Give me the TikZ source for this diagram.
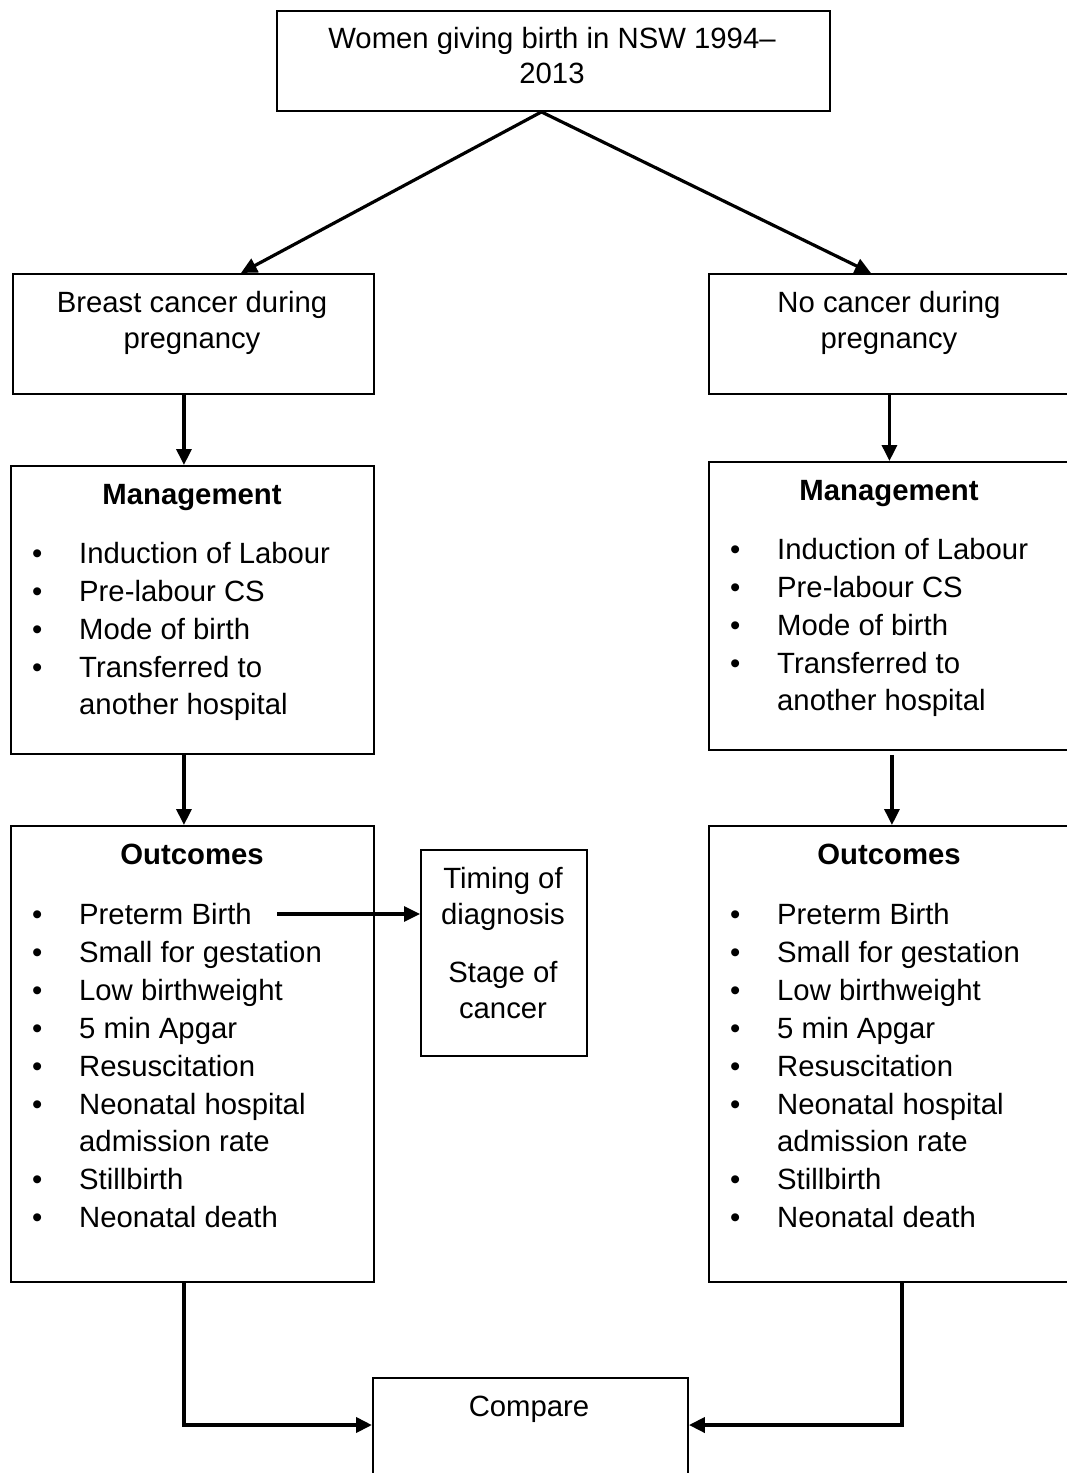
\documentclass[tikz,border=0pt]{standalone}
\usepackage{fontspec}
\setmainfont{Liberation Sans}
\usetikzlibrary{arrows.meta}

% one centred block of lines, and one bulleted list
\newcommand\ctab[1]{\begin{tabular}[t]{@{}c@{}}#1\end{tabular}}
\newcommand\btab[1]{\begin{tabular}[t]{@{}l@{}}#1\end{tabular}}
\newcommand\bul{\makebox[47pt][l]{\textbullet}}
\newcommand\cont{\hspace*{47pt}}

\begin{document}
\begin{tikzpicture}[x=1pt,y=-1pt,
  box/.style={draw, line width=1.9pt, rectangle, inner sep=0pt, anchor=north west},
  txt/.style={inner sep=0pt, font=\fontsize{29.3}{38}\selectfont},
  ttl/.style={txt, font=\fontsize{29.3}{38}\selectfont\bfseries},
  arr/.style={line width=3.2pt, -{Triangle[length=16pt,width=15pt]}},
  elbow/.style={line width=3.8pt, -{Triangle[length=16pt,width=15pt]}},
]
\clip (0,0) rectangle (1067,1473);
\fill[white] (0,0) rectangle (1067,1473);

% ---- boxes
\node[box, minimum width=553pt, minimum height=100pt] (top) at (276,10) {};
\node[box, minimum width=361pt, minimum height=120pt] (b1L) at (12,273) {};
\node[box, minimum width=361pt, minimum height=120pt] (b1R) at (708,273) {};
\node[box, minimum width=363pt, minimum height=288pt] (mgL) at (10,465) {};
\node[box, minimum width=361pt, minimum height=288pt] (mgR) at (708,461) {};
\node[box, minimum width=363pt, minimum height=456pt] (ocL) at (10,825) {};
\node[box, minimum width=361pt, minimum height=456pt] (ocR) at (708,825) {};
\node[box, minimum width=166pt, minimum height=206pt] (tim) at (420,849) {};
\node[box, minimum width=315pt, minimum height=160pt] (cmp) at (372,1377) {};

% ---- texts
\node[txt, anchor=base] (topT) at (552,48)
  {\ctab{Women giving birth in NSW 1994–\\[-3pt]2013}};
\node[txt, anchor=base] (b1LT) at (192,312) {\ctab{Breast cancer during\\[-2pt]pregnancy}};
\node[txt, anchor=base] (b1RT) at (889,312) {\ctab{No cancer during\\[-2pt]pregnancy}};

\node[ttl, anchor=base] (mgLH) at (192,504) {Management};
\node[txt, anchor=base west] (mgLT) at (32,563) {\btab{%
  \bul Induction of Labour\\ \bul Pre-labour CS\\ \bul Mode of birth\\
  \bul Transferred to\\[-1pt] \cont another hospital}};
\node[ttl, anchor=base] (mgRH) at (889,500) {Management};
\node[txt, anchor=base west] (mgRT) at (730,559) {\btab{%
  \bul Induction of Labour\\ \bul Pre-labour CS\\ \bul Mode of birth\\
  \bul Transferred to\\[-1pt] \cont another hospital}};

\node[ttl, anchor=base] (ocLH) at (192,864) {Outcomes};
\node[txt, anchor=base west] (ocLT) at (32,924) {\btab{%
  \bul Preterm Birth\\ \bul Small for gestation\\ \bul Low birthweight\\
  \bul 5 min Apgar\\ \bul Resuscitation\\ \bul Neonatal hospital\\[-1pt]
  \cont admission rate\\ \bul Stillbirth\\ \bul Neonatal death}};
\node[ttl, anchor=base] (ocRH) at (889,864) {Outcomes};
\node[txt, anchor=base west] (ocRT) at (730,924) {\btab{%
  \bul Preterm Birth\\ \bul Small for gestation\\ \bul Low birthweight\\
  \bul 5 min Apgar\\ \bul Resuscitation\\ \bul Neonatal hospital\\[-1pt]
  \cont admission rate\\ \bul Stillbirth\\ \bul Neonatal death}};

\node[txt, anchor=base] (timT) at (503,888) {\ctab{Timing of\\[-2pt]diagnosis\\[20pt]Stage of\\[-2pt]cancer}};
\node[txt, anchor=base] (cmpT) at (529,1416) {Compare};

% ---- connectors
\draw[arr] ([xshift=-12pt]top.south) -- ([xshift=47.5pt]b1L.north);
\draw[arr] ([xshift=-12pt]top.south) -- ([xshift=-18.5pt]b1R.north);
\draw[arr] ([xshift=-9.5pt]b1L.south) -- ([xshift=-8.5pt]mgL.north);
\draw[arr] ([xshift=0pt]b1R.south) -- ([xshift=0pt]mgR.north);
\draw[arr] ([xshift=-8.5pt]mgL.south) -- ([xshift=-8.5pt]ocL.north);
\draw[arr] ([xshift=2.5pt,yshift=-4pt]mgR.south) -- ([xshift=2.5pt]ocR.north);

\coordinate (pb) at (277,914);
\draw[arr] (pb) -- (tim.west |- pb);

\coordinate (cy) at (0,1425);
\draw[elbow] ([xshift=-8.5pt]ocL.south) |- (cmp.west |- cy);
\draw[elbow] ([xshift=12.5pt]ocR.south) |- (cmp.east |- cy);
\end{tikzpicture}
\end{document}
